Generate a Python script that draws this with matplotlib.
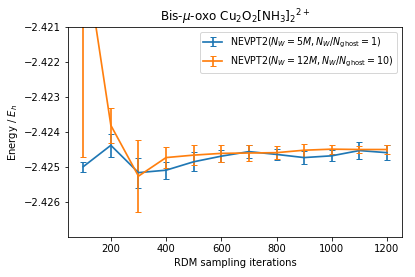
import matplotlib
matplotlib.use("Agg")
import matplotlib.pyplot as plt

# RDM sampling iterations
iterations = [100, 200, 300, 400, 500, 600, 700, 800, 900, 1000, 1100, 1200]

# N_W = 5M, N_W/N_ghost = 1
energy_5m = [-2.42499, -2.42438, -2.42516, -2.42509, -2.42485, -2.42469,
             -2.42456, -2.42464, -2.42473, -2.42468, -2.42453, -2.42459]
err_5m = [0.00014, 0.00033, 0.00043, 0.00024, 0.00027, 0.00018,
          0.00018, 0.00016, 0.00018, 0.00016, 0.00025, 0.00021]

# N_W = 12M, N_W/N_ghost = 10
energy_12m = [-2.4186, -2.42381, -2.42526, -2.42473, -2.42466, -2.42461,
              -2.42460, -2.42459, -2.42452, -2.42449, -2.42450, -2.42450]
err_12m = [0.0061, 0.00050, 0.00103, 0.00030, 0.00029, 0.00024,
           0.00024, 0.00019, 0.00019, 0.00013, 0.00010, 0.00013]

DPI = 72

fig, ax = plt.subplots(figsize=(415 / DPI, 277 / DPI), dpi=DPI)
fig.subplots_adjust(left=0.164, right=0.969, top=0.903, bottom=0.144)

ax.errorbar(iterations, energy_5m, yerr=err_5m, capsize=3, linewidth=1.7,
            label=r"NEVPT2($N_W=5M, N_W/N_{\rm ghost}=1$)")
ax.errorbar(iterations, energy_12m, yerr=err_12m, capsize=3, linewidth=1.7,
            label=r"NEVPT2($N_W=12M, N_W/N_{\rm ghost}=10$)")

ax.set_ylim(-2.427, -2.421)
ax.set_yticks([-2.426, -2.425, -2.424, -2.423, -2.422, -2.421])
ax.set_xlabel("RDM sampling iterations")
ax.set_ylabel(r"Energy / $E_h$")
ax.set_title(r"Bis-$\mu$-oxo Cu$_2$O$_2$[NH$_3$]$_2{}^{2+}$")
ax.legend(loc="upper right", fontsize=9.5)

fig.savefig("out.png", dpi=DPI)
